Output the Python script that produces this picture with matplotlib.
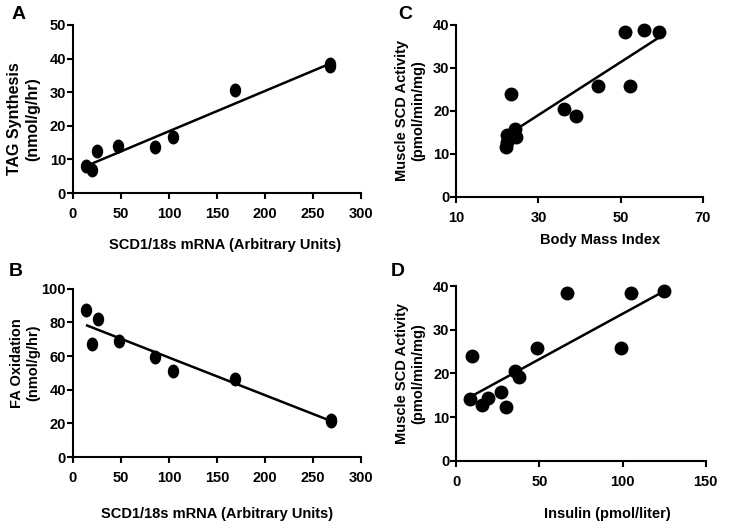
import matplotlib
matplotlib.use("Agg")
import matplotlib.pyplot as plt
from matplotlib.path import Path
from matplotlib.transforms import Affine2D

plt.rcParams['font.family'] = ['Liberation Sans', 'DejaVu Sans']
plt.rcParams['font.weight'] = 'bold'
plt.rcParams['font.size'] = 10

# panel A: TAG synthesis vs SCD1 mRNA
a_x = [13.4, 19.6, 25.5, 46.9, 85.8, 103.8, 169.3, 268, 268]
a_y = [8.1, 6.8, 12.5, 14.1, 13.7, 16.8, 30.7, 38.4, 37.7]
a_fit_x = [17.6, 269]
a_fit_y = [8.5, 38.6]

# panel B: FA oxidation vs SCD1 mRNA
b_x = [13.4, 20.3, 26.5, 47.6, 85.5, 103.8, 169.3, 269, 269]
b_y = [87.3, 67.5, 82.3, 69.2, 59.5, 51.0, 46.4, 22.3, 21.2]
b_fit_x = [14.8, 269]
b_fit_y = [78.2, 21.4]

# panel C: muscle SCD activity vs BMI
c_x = [22.0, 22.3, 22.4, 23.4, 24.2, 24.5, 36.3, 39.2, 44.6, 51.0, 52.2, 55.7, 59.4]
c_y = [11.6, 12.8, 14.3, 23.8, 15.7, 13.9, 20.4, 18.9, 25.8, 38.3, 25.8, 38.8, 38.3]
c_fit_x = [23.6, 60.7]
c_fit_y = [15.1, 37.9]

# panel D: muscle SCD activity vs insulin
d_x = [9.2, 8.2, 15.2, 19.2, 27.0, 29.6, 35.0, 37.6, 48.8, 66.4, 99.2, 104.8, 125.2]
d_y = [24.0, 14.1, 12.7, 14.4, 15.7, 12.4, 20.6, 19.1, 25.8, 38.4, 25.8, 38.4, 38.8]
d_fit_x = [8.2, 126.6]
d_fit_y = [14.6, 39.2]

# slightly tall dots like the scanned figure
circ = Path.unit_circle()
oval = circ.transformed(Affine2D().scale(0.8, 1.0))

fig = plt.figure(figsize=(7.29, 5.29), dpi=100)

panels = [
    ("A", [0.100, 0.635, 0.395, 0.318], a_x, a_y, a_fit_x, a_fit_y,
     (0, 300), range(0, 301, 50), (0, 50), range(0, 51, 10),
     "SCD1/18s mRNA (Arbitrary Units)", "TAG Synthesis\n(nmol/g/hr)",
     oval, 11.5, (0.53, -0.268), (-0.115, 0.44), (0.025, 0.972)),
    ("B", [0.100, 0.136, 0.395, 0.318], b_x, b_y, b_fit_x, b_fit_y,
     (0, 300), range(0, 301, 50), (0, 100), range(0, 101, 20),
     "SCD1/18s mRNA (Arbitrary Units)", "FA Oxidation\n(nmol/g/hr)",
     oval, 10.5, (0.50, -0.298), (-0.115, 0.56), (0.021, 0.486)),
    ("C", [0.626, 0.628, 0.338, 0.325], c_x, c_y, c_fit_x, c_fit_y,
     (10, 70), range(10, 71, 20), (0, 40), range(0, 41, 10),
     "Body Mass Index", "Muscle SCD Activity\n(pmol/min/mg)",
     circ, 10.5, (0.583, -0.209), (-0.126, 0.5), (0.556, 0.972)),
    ("D", [0.626, 0.129, 0.342, 0.330], d_x, d_y, d_fit_x, d_fit_y,
     (0, 150), range(0, 151, 50), (0, 40), range(0, 41, 10),
     "Insulin (pmol/liter)", "Muscle SCD Activity\n(pmol/min/mg)",
     circ, 10.5, (0.604, -0.263), (-0.124, 0.5), (0.546, 0.486)),
]

for (letter, rect, x, y, fx, fy, xl, xt, yl, yt, xlab, ylab,
     mk, ysize, xlab_pos, ylab_pos, let_pos) in panels:
    ax = fig.add_axes(rect)
    ax.plot(x, y, linestyle='none', marker=mk, color='black', markersize=9, clip_on=False)
    ax.plot(fx, fy, '-', color='black', linewidth=1.8)
    ax.set_xlim(xl)
    ax.set_ylim(yl)
    ax.set_xticks(list(xt))
    ax.set_yticks(list(yt))
    for s in ['top', 'right']:
        ax.spines[s].set_visible(False)
    for s in ['left', 'bottom']:
        ax.spines[s].set_linewidth(1.5)
    ax.tick_params(direction='out', length=4, width=1.5, labelsize=10.5)
    ax.tick_params(axis='x', pad=6)
    ax.tick_params(axis='y', pad=1)
    ax.set_xlabel(xlab, fontsize=10.5, fontweight='bold')
    ax.set_ylabel(ylab, fontsize=ysize, fontweight='bold')
    ax.xaxis.set_label_coords(*xlab_pos)
    ax.yaxis.set_label_coords(*ylab_pos)
    fig.text(let_pos[0], let_pos[1], letter, fontsize=14, fontweight='bold',
             ha='center', va='center')

fig.savefig("out.png", dpi=100)
